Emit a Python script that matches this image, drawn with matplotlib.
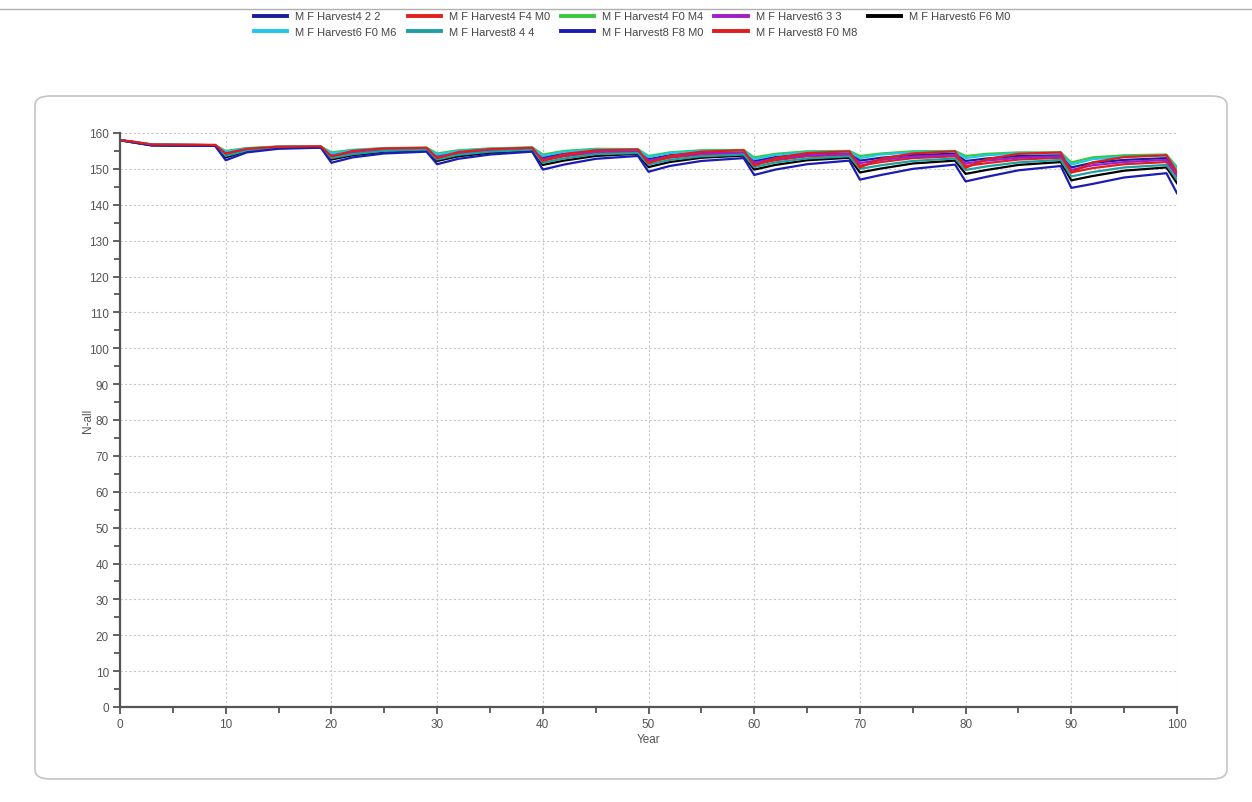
import matplotlib
matplotlib.use('Agg')
import matplotlib.pyplot as plt
from matplotlib.patches import FancyBboxPatch
from matplotlib.lines import Line2D
from matplotlib.ticker import MultipleLocator

plt.rcParams['font.family'] = ['Liberation Sans', 'DejaVu Sans']

years = [0, 1, 3, 9,
         10, 12, 15, 19, 20, 22, 25, 29, 30, 32, 35, 39,
         40, 42, 45, 49, 50, 52, 55, 59, 60, 62, 65, 69,
         70, 72, 75, 79, 80, 82, 85, 89, 90, 92, 95, 99, 100]

h4_2_2 = [158.0, 157.6, 156.8, 156.6,
          154.5, 155.6, 156.1, 156.1, 154.0, 154.9, 155.5, 155.7, 153.7, 154.7, 155.3, 155.8,
          153.2, 154.2, 155.0, 155.1, 152.7, 153.8, 154.6, 154.8, 152.2, 153.3, 154.2, 154.4,
          152.3, 153.1, 153.9, 154.2, 152.2, 152.9, 153.6, 153.8, 150.4, 151.7, 152.5, 153.0, 149.0]
h4_f4_m0 = [158.0, 157.6, 156.7, 156.5,
            154.0, 155.3, 156.0, 156.1, 153.4, 154.4, 155.2, 155.5, 153.1, 154.2, 155.0, 155.5,
            152.3, 153.5, 154.5, 154.8, 151.8, 153.1, 154.0, 154.4, 151.2, 152.4, 153.5, 153.9,
            150.9, 151.9, 153.0, 153.5, 150.8, 151.6, 152.6, 153.1, 149.0, 150.2, 151.3, 151.9, 148.0]
h4_f0_m4 = [158.0, 157.6, 156.8, 156.6,
            155.0, 155.8, 156.2, 156.2, 154.6, 155.3, 155.8, 155.9, 154.3, 155.2, 155.7, 156.0,
            154.0, 155.0, 155.6, 155.5, 153.6, 154.6, 155.2, 155.3, 153.2, 154.2, 154.9, 155.0,
            153.6, 154.3, 154.9, 155.0, 153.6, 154.2, 154.6, 154.6, 151.8, 153.2, 153.8, 154.0, 150.5]
h6_3_3 = [158.0, 157.6, 156.7, 156.5,
          154.2, 155.4, 156.0, 156.1, 153.7, 154.7, 155.3, 155.6, 153.4, 154.5, 155.2, 155.6,
          152.7, 153.9, 154.8, 154.9, 152.3, 153.5, 154.3, 154.6, 151.7, 152.9, 153.8, 154.2,
          151.6, 152.5, 153.4, 153.9, 151.5, 152.3, 153.1, 153.5, 149.7, 151.0, 151.9, 152.5, 148.3]
h6_f6_m0 = [158.0, 157.5, 156.6, 156.5,
            153.2, 155.0, 155.8, 156.0, 152.6, 153.8, 154.8, 155.1, 152.2, 153.5, 154.5, 155.2,
            151.1, 152.3, 153.6, 154.2, 150.5, 151.9, 153.1, 153.7, 149.8, 151.1, 152.4, 153.1,
            149.0, 150.1, 151.5, 152.3, 148.6, 149.7, 151.1, 151.9, 146.8, 148.0, 149.5, 150.4, 146.0]
h6_f0_m6 = [158.0, 157.6, 156.8, 156.6,
            154.8, 155.7, 156.2, 156.2, 154.3, 155.2, 155.7, 155.8, 154.0, 155.0, 155.6, 155.9,
            153.6, 154.8, 155.4, 155.4, 153.3, 154.4, 155.0, 155.1, 152.7, 153.9, 154.6, 154.8,
            153.0, 154.0, 154.6, 154.8, 153.0, 153.8, 154.3, 154.4, 151.2, 152.7, 153.4, 153.7, 150.0]
h8_4_4 = [158.0, 157.5, 156.6, 156.5,
          153.6, 155.1, 155.9, 156.0, 153.0, 154.1, 155.0, 155.3, 152.6, 153.9, 154.8, 155.3,
          151.7, 152.9, 154.1, 154.4, 151.2, 152.5, 153.5, 154.0, 150.5, 151.8, 152.9, 153.5,
          150.0, 151.0, 152.2, 152.9, 149.7, 150.7, 151.8, 152.5, 147.9, 149.1, 150.4, 151.1, 147.0]
h8_f8_m0 = [158.0, 157.5, 156.5, 156.4,
            152.4, 154.6, 155.6, 155.9, 151.7, 153.2, 154.3, 154.8, 151.3, 152.8, 154.0, 154.8,
            149.8, 151.2, 152.8, 153.6, 149.2, 150.8, 152.2, 153.0, 148.3, 149.8, 151.3, 152.3,
            147.0, 148.3, 150.0, 151.2, 146.5, 147.8, 149.6, 150.8, 144.7, 145.8, 147.6, 148.8, 143.2]
h8_f0_m8 = [158.0, 157.7, 156.8, 156.7,
            154.3, 155.6, 156.2, 156.3, 153.5, 155.0, 155.7, 155.9, 153.0, 154.7, 155.5, 155.9,
            152.2, 154.1, 155.2, 155.4, 151.6, 153.6, 154.8, 155.2, 150.9, 153.0, 154.4, 154.9,
            150.4, 152.8, 154.3, 154.9, 150.3, 152.7, 154.2, 154.6, 149.0, 151.8, 153.3, 153.8, 149.0]

labels = ['M F Harvest4 2 2', 'M F Harvest4 F4 M0', 'M F Harvest4 F0 M4',
          'M F Harvest6 3 3', 'M F Harvest6 F6 M0', 'M F Harvest6 F0 M6',
          'M F Harvest8 4 4', 'M F Harvest8 F8 M0', 'M F Harvest8 F0 M8']
series = [h4_2_2, h4_f4_m0, h4_f0_m4, h6_3_3, h6_f6_m0,
          h6_f0_m6, h8_4_4, h8_f8_m0, h8_f0_m8]
colors = ['#1c1c9c', '#e0201c', '#3cc83c', '#a01ec8', '#000000',
          '#1ec8e6', '#1ea0a0', '#1c1cb4', '#e01c1c']

fig = plt.figure(figsize=(12.52, 8.03), dpi=100)

# outer rounded panel and thin top rule
panel = FancyBboxPatch((35 / 1252, 1 - 780 / 803), (1227 - 35) / 1252, (780 - 97) / 803,
                       boxstyle='round,pad=0,rounding_size=0.012',
                       transform=fig.transFigure, facecolor='white',
                       edgecolor='#c4c4c4', linewidth=1.2, zorder=-10)
fig.patches.append(panel)
fig.add_artist(Line2D([0, 1], [1 - 10 / 803, 1 - 10 / 803], transform=fig.transFigure,
                      color='#b0b0b0', linewidth=1.0))

ax = fig.add_axes([120 / 1252, 1 - 708 / 803, (1177 - 120) / 1252, (708 - 134) / 803])
ax.set_facecolor('none')
for vals, lab, col in zip(series, labels, colors):
    ax.plot(years, vals, color=col, linewidth=1.6, label=lab)

ax.set_xlim(0, 100)
ax.set_ylim(0, 160)
ax.xaxis.set_major_locator(MultipleLocator(10))
ax.xaxis.set_minor_locator(MultipleLocator(5))
ax.yaxis.set_major_locator(MultipleLocator(10))
ax.yaxis.set_minor_locator(MultipleLocator(5))
ax.grid(True, which='major', color='#c8c8c8', linestyle=(0, (2, 2)), linewidth=0.8)
for s in ['top', 'right']:
    ax.spines[s].set_visible(False)
for s in ['left', 'bottom']:
    ax.spines[s].set_color('#555555')
    ax.spines[s].set_linewidth(1.6)
ax.tick_params(which='major', length=5, width=1.3, color='#555555',
               labelsize=8.5, labelcolor='#555555', pad=3)
ax.tick_params(which='minor', length=4, width=1.3, color='#555555')
ax.set_xlabel('Year', fontsize=8.5, color='#555555', labelpad=2)
ax.set_ylabel('N-all', fontsize=8.5, color='#555555')
ax.yaxis.set_label_coords(-0.025, 0.5)

# legend with thicker swatches; matplotlib fills columns first, so reorder
proxies = [Line2D([], [], color=c, linewidth=2.8) for c in colors]
order = [0, 5, 1, 6, 2, 7, 3, 8, 4]
fig.legend([proxies[i] for i in order], [labels[i] for i in order],
           loc='upper center', bbox_to_anchor=(0.505, 0.997), ncol=5, frameon=False,
           fontsize=8, handlelength=3.0, handletextpad=0.7, columnspacing=1.0,
           labelspacing=0.5, labelcolor='#444444')

fig.savefig('out.png', dpi=100)
